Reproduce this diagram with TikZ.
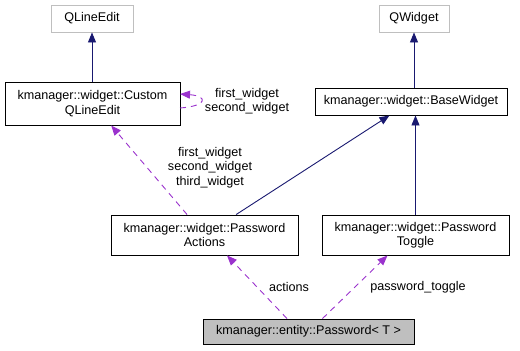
\documentclass[tikz,border=0pt]{standalone}
\usepackage{fontspec}
\setmainfont{Liberation Sans}
\usetikzlibrary{positioning}
\usetikzlibrary{arrows.meta}
\definecolor{inhblue}{HTML}{191970}
\definecolor{usepurple}{HTML}{9A32CD}
\definecolor{extgray}{HTML}{BFBFBF}
\tikzset{
    classbox/.style = {rectangle, draw=black, line width=0.9pt, align=center, inner sep=0pt, fill=white},
    classboxq/.style = {classbox, draw=extgray},
    classboxf/.style = {classbox, fill=extgray},
    lbl/.style = {align=center, inner sep=0pt},
    edgeinh/.style = {-{Triangle[length=10pt,width=8pt]}, line width=0.9pt, inhblue}, % base class
    edgeuse/.style = {-{Triangle[length=10pt,width=8pt]}, line width=0.9pt, usepurple, dash pattern=on 6pt off 5pt}, % member
}

\begin{document}
\begin{tikzpicture}[x=1pt,y=-1pt,font=\fontsize{12.6}{14.5}\selectfont]
\useasboundingbox (0,0) rectangle (520,351);
\node[classboxq, minimum width=82pt, minimum height=27pt] at (92, 18.5) (qle) {QLineEdit};
\node[classbox, minimum width=175pt, minimum height=43pt] at (92.5, 103.5) (cle) {kmanager::widget::Custom\\QLineEdit};
\node[classboxq, minimum width=70pt, minimum height=27pt] at (414, 18.5) (qw) {QWidget};
\node[classbox, minimum width=192pt, minimum height=27pt] at (411, 101.5) (bw) {kmanager::widget::BaseWidget};
\node[classbox, minimum width=187pt, minimum height=40pt] at (204.5, 235) (pa) {kmanager::widget::Password\\Actions};
\node[classbox, minimum width=187pt, minimum height=40pt] at (415.5, 235) (pt) {kmanager::widget::Password\\Toggle};
\node[classboxf, minimum width=211pt, minimum height=25pt] at (308.5, 331.5) (pw) {kmanager::entity::Password< T >};
%
\draw[edgeinh] (cle.north -| qle.south) -- (qle.south);
\draw[edgeinh] (bw.north -| qw.south) -- (qw.south);
\draw[edgeinh] (pa) -- (bw);
\draw[edgeinh] (pt.north) -- (pt.north |- bw.south);
%
\coordinate (loopout) at (180, 108);
\coordinate (loopin) at (180, 94);
\draw[edgeuse] (loopout) .. controls (208, 106) and (208, 96) .. (loopin);
\draw[edgeuse] (pa) -- (cle);
\draw[edgeuse] ([xshift=-21.5pt]pw.north) -- ([xshift=22.5pt]pa.south);
\draw[edgeuse] ([xshift=14pt]pw.north) -- ([xshift=-28pt]pt.south);
%
\node[lbl] at (247, 101) (lblself) {first\_widget\\second\_widget};
\node[lbl] at (210, 167.5) (lblcustom) {first\_widget\\second\_widget\\third\_widget};
\node[lbl] at (289, 287) (lblactions) {actions};
\node[lbl] at (418, 287) (lbltoggle) {password\_toggle};

\end{tikzpicture}
\end{document}
